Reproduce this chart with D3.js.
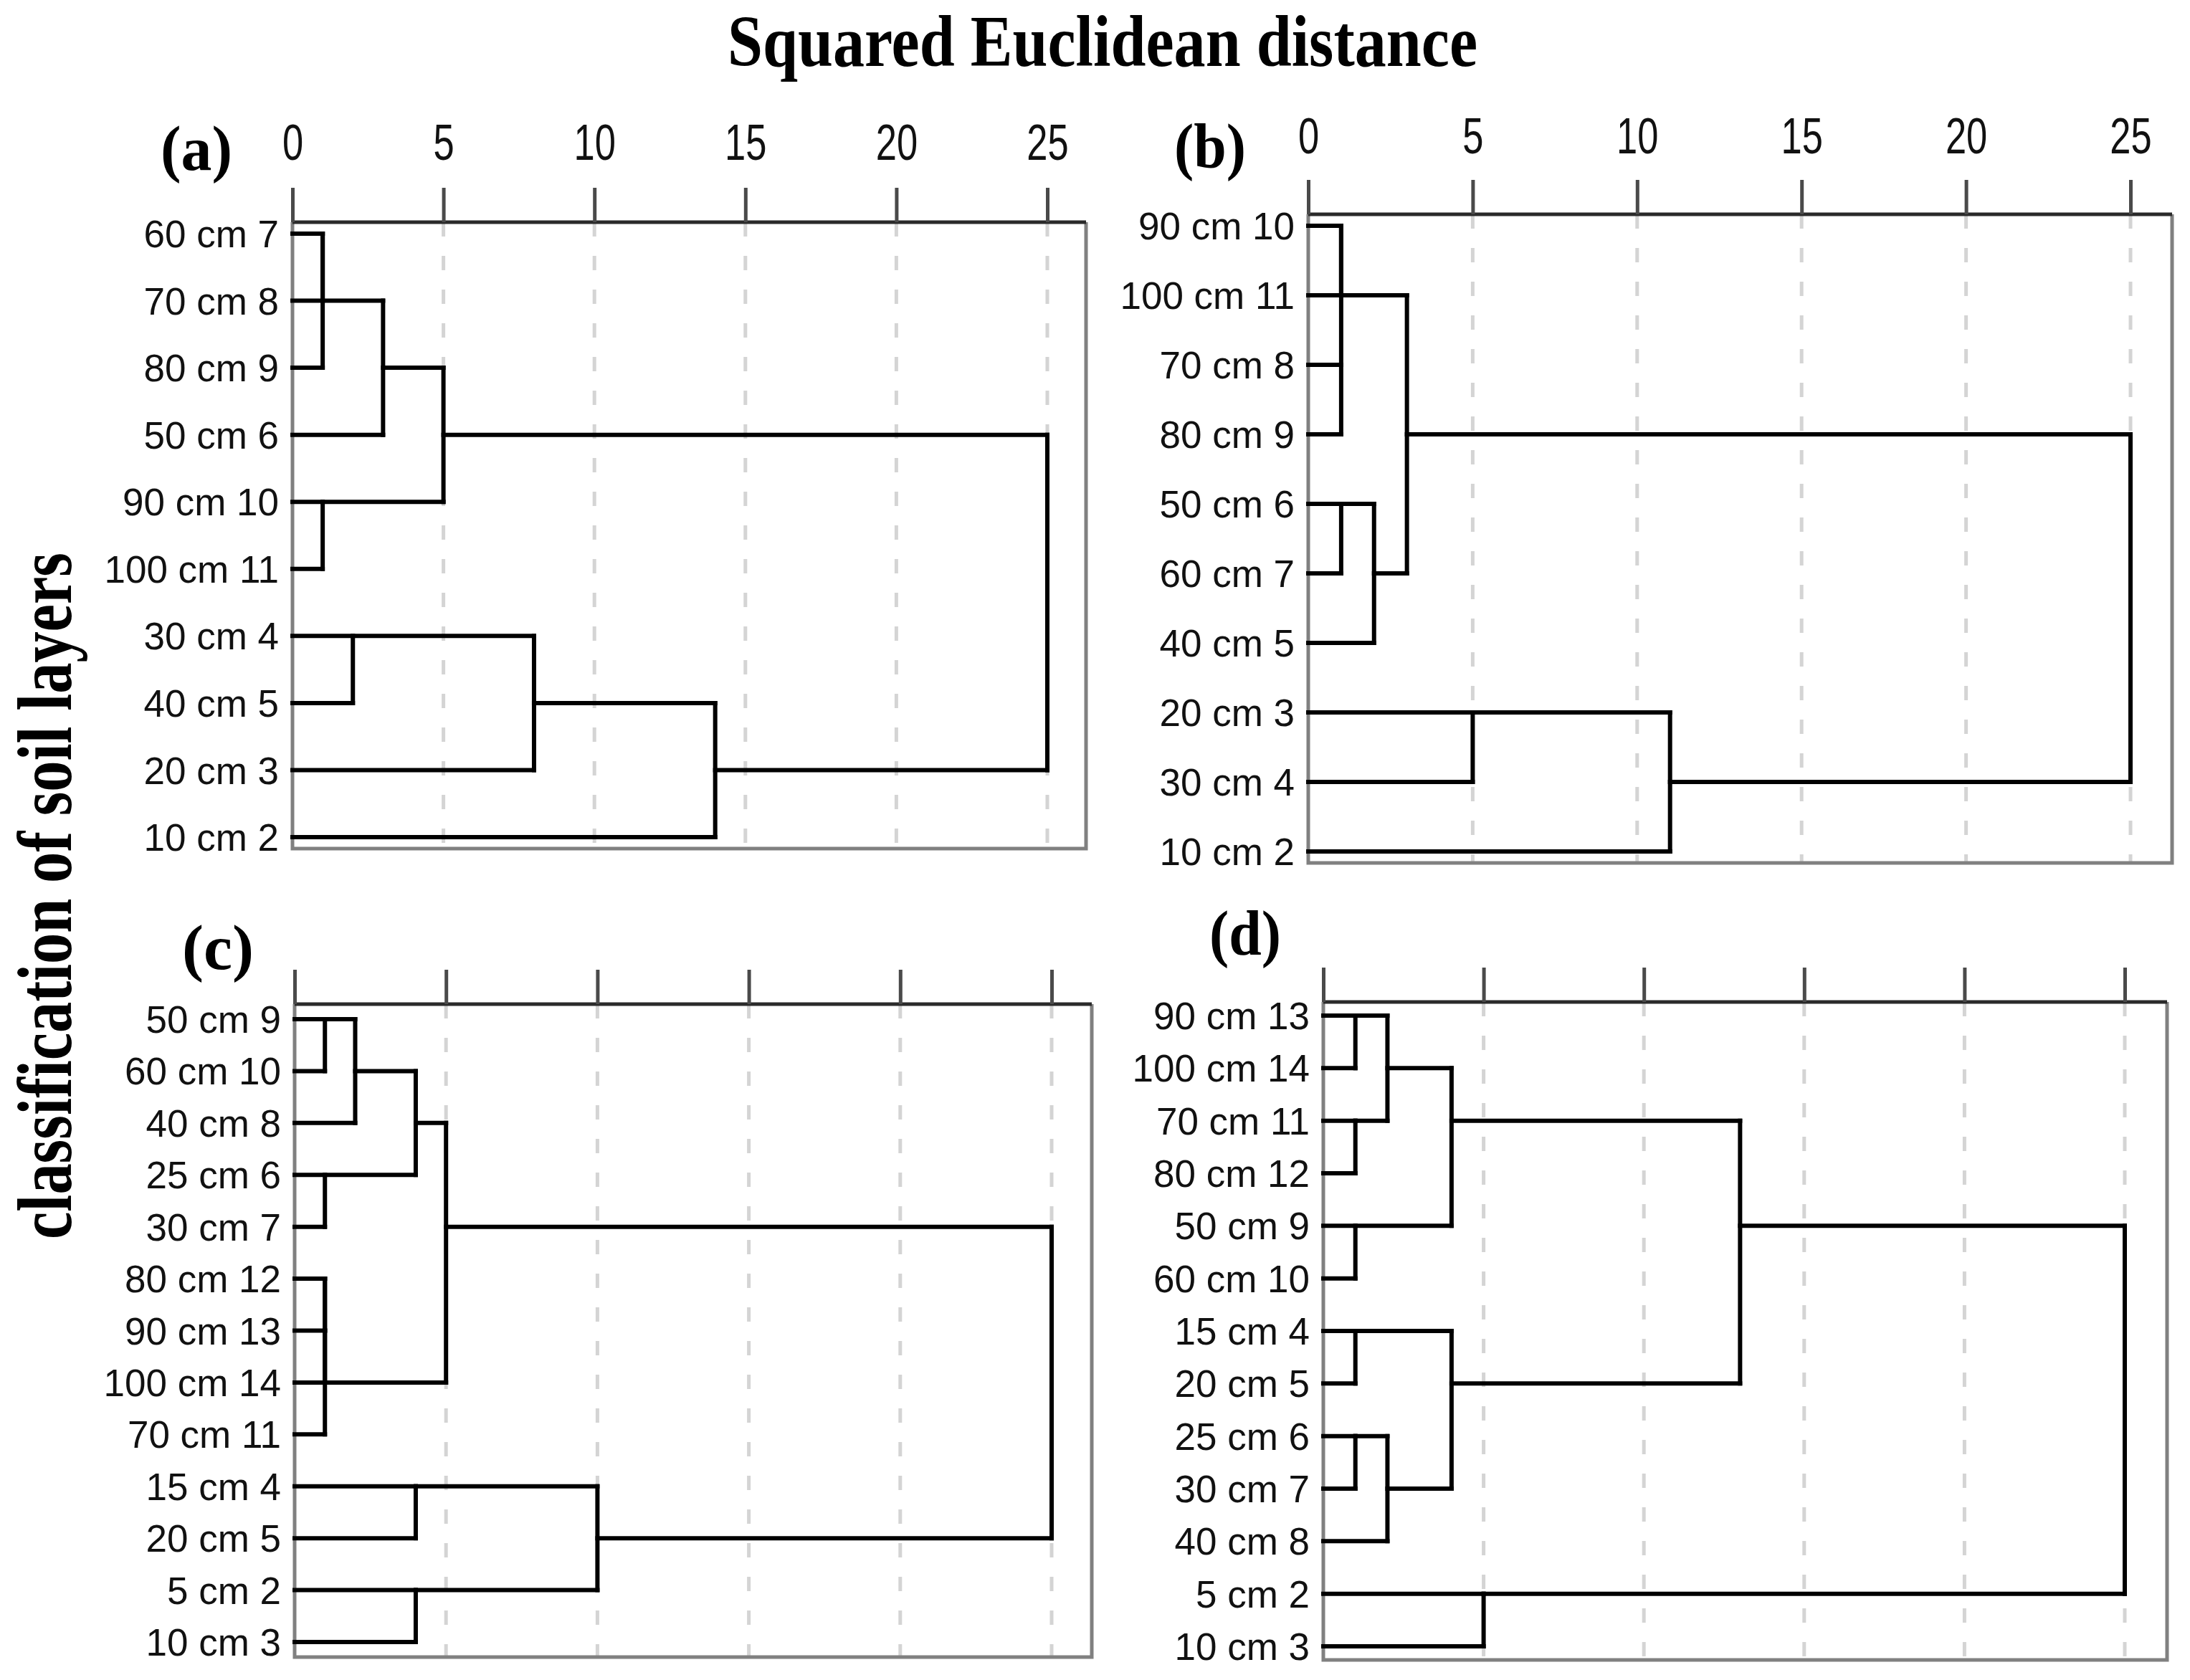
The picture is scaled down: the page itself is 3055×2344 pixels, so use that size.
<!DOCTYPE html>
<html>
<head>
<meta charset="utf-8">
<script src="https://cdn.jsdelivr.net/npm/d3@7"></script>
<style>
html,body{margin:0;padding:0;background:#fff;}
svg{display:block;}
</style>
</head>
<body>
<svg id="chart" width="3055" height="2344"></svg>
<script>
// ---------------- DATA ----------------
const titleText = "Squared Euclidean distance";
const yTitleText = "classification of soil layers";
const tickValues = [0, 5, 10, 15, 20, 25];
const panelNames = ["(a)", "(b)", "(c)", "(d)"];

const leavesA = ["60 cm 7","70 cm 8","80 cm 9","50 cm 6","90 cm 10","100 cm 11","30 cm 4","40 cm 5","20 cm 3","10 cm 2"];
// merges: [childA, childB, rescaled distance]; ids >= n are earlier clusters
const mergesA = [[0,1,1],[10,2,1],[4,5,1],[11,3,3],[13,12,5],[6,7,2],[15,8,8],[16,9,14],[14,17,25]];

const leavesB = ["90 cm 10","100 cm 11","70 cm 8","80 cm 9","50 cm 6","60 cm 7","40 cm 5","20 cm 3","30 cm 4","10 cm 2"];
const mergesB = [[0,1,1],[2,3,1],[10,11,1],[4,5,1],[13,6,2],[12,14,3],[7,8,5],[16,9,11],[15,17,25]];

const leavesC = ["50 cm 9","60 cm 10","40 cm 8","25 cm 6","30 cm 7","80 cm 12","90 cm 13","100 cm 14","70 cm 11","15 cm 4","20 cm 5","5 cm 2","10 cm 3"];
const mergesC = [[0,1,1],[13,2,2],[3,4,1],[14,15,4],[5,6,1],[17,7,1],[18,8,1],[16,19,5],[9,10,4],[11,12,4],[21,22,10],[20,23,25]];

const leavesD = ["90 cm 13","100 cm 14","70 cm 11","80 cm 12","50 cm 9","60 cm 10","15 cm 4","20 cm 5","25 cm 6","30 cm 7","40 cm 8","5 cm 2","10 cm 3"];
const mergesD = [[0,1,1],[2,3,1],[13,14,2],[4,5,1],[15,16,4],[6,7,1],[8,9,1],[19,10,2],[18,20,4],[17,21,13],[11,12,5],[22,23,25]];

// ---------------- LAYOUT ----------------
const layout = [
  {leaves: leavesA, merges: mergesA, x0:408,  x1:1461, boxR:1515, top:310,  bottom:1184, pad:16, lx:274,  ly:237,  labels:true,  tickPad:39},
  {leaves: leavesB, merges: mergesB, x0:1825, x1:2972, boxR:3030, top:299,  bottom:1204, pad:16, lx:1688, ly:234,  labels:true,  tickPad:37},
  {leaves: leavesC, merges: mergesC, x0:411,  x1:1467, boxR:1523, top:1401, bottom:2312, pad:21, lx:304,  ly:1352, labels:false, tickPad:37},
  {leaves: leavesD, merges: mergesD, x0:1846, x1:2964, boxR:3023, top:1398, bottom:2316, pad:19, lx:1737, ly:1332, labels:false, tickPad:37}
];

const svg = d3.select("#chart");

// Title
svg.append("text")
  .attr("x", 1538).attr("y", 92)
  .attr("text-anchor", "middle")
  .attr("font-family", "'Liberation Serif','Times New Roman',serif")
  .attr("font-weight", "bold")
  .attr("font-size", 102)
  .attr("textLength", 1046)
  .attr("lengthAdjust", "spacingAndGlyphs")
  .attr("fill", "#000")
  .text(titleText);

// Y title
svg.append("text")
  .attr("transform", "translate(99,1250) rotate(-90)")
  .attr("text-anchor", "middle")
  .attr("font-family", "'Liberation Serif','Times New Roman',serif")
  .attr("font-weight", "bold")
  .attr("font-size", 108)
  .attr("textLength", 958)
  .attr("lengthAdjust", "spacingAndGlyphs")
  .attr("fill", "#000")
  .text(yTitleText);

layout.forEach((p, pi) => {
  const n = p.leaves.length;
  const x = d3.scaleLinear().domain([0, 25]).range([p.x0, p.x1]);
  const y = d3.scalePoint().domain(d3.range(n)).range([p.top + p.pad, p.bottom - p.pad]);
  const g = svg.append("g");

  // dashed gridlines
  g.append("g").selectAll("line").data(tickValues.filter(v => v > 0)).join("line")
    .attr("x1", d => x(d)).attr("x2", d => x(d))
    .attr("y1", p.top).attr("y2", p.bottom)
    .attr("stroke", "#d4d4d4").attr("stroke-width", 5)
    .attr("stroke-dasharray", "20,27");

  // box
  g.append("path")
    .attr("d", `M${p.x0},${p.top} L${p.x0},${p.bottom} L${p.boxR},${p.bottom} L${p.boxR},${p.top}`)
    .attr("fill", "none").attr("stroke", "#808080").attr("stroke-width", 5);
  g.append("line")
    .attr("x1", p.x0).attr("x2", p.boxR).attr("y1", p.top).attr("y2", p.top)
    .attr("stroke", "#2a2a2a").attr("stroke-width", 5);

  // dendrogram geometry
  const row = d3.range(n);
  const dist = new Array(n).fill(0);
  const vSegs = [], hSegs = [];
  p.merges.forEach(([a, b, d]) => {
    vSegs.push({x: d, r1: row[a], r2: row[b]});
    hSegs.push({x1: dist[a], x2: d, r: row[a]});
    hSegs.push({x1: dist[b], x2: d, r: row[b]});
    row.push(Math.floor((row[a] + row[b]) / 2));
    dist.push(d);
  });
  const yr = r => y(r);

  g.append("g").selectAll("line").data(hSegs).join("line")
    .attr("x1", d => x(d.x1)).attr("x2", d => x(d.x2))
    .attr("y1", d => yr(d.r)).attr("y2", d => yr(d.r))
    .attr("stroke", "#000").attr("stroke-width", 6).attr("stroke-linecap", "square");
  g.append("g").selectAll("line").data(vSegs).join("line")
    .attr("x1", d => x(d.x)).attr("x2", d => x(d.x))
    .attr("y1", d => yr(d.r1)).attr("y2", d => yr(d.r2))
    .attr("stroke", "#000").attr("stroke-width", 6).attr("stroke-linecap", "square");

  // leaf labels
  g.append("g").selectAll("text").data(p.leaves).join("text")
    .attr("x", p.x0 - 19)
    .attr("y", (d, i) => y(i))
    .attr("dy", "0.36em")
    .attr("text-anchor", "end")
    .attr("font-family", "'Liberation Sans',Arial,sans-serif")
    .attr("font-size", 53)
    .attr("fill", "#111")
    .text(d => d);

  // top axis
  const axis = d3.axisTop(x).tickValues(tickValues).tickSizeInner(48).tickSizeOuter(0).tickPadding(p.tickPad)
    .tickFormat(p.labels ? d3.format("d") : () => "");
  const ax = g.append("g").attr("transform", `translate(0,${p.top})`).call(axis);
  ax.select(".domain").remove();
  ax.selectAll(".tick line").attr("stroke", "#4a4a4a").attr("stroke-width", 5);
  ax.selectAll(".tick text")
    .attr("font-family", "'Liberation Sans',Arial,sans-serif")
    .attr("font-size", 70)
    .attr("fill", "#111")
    .attr("transform", "scale(0.75,1)");

  // panel label
  svg.append("text")
    .attr("x", p.lx).attr("y", p.ly)
    .attr("text-anchor", "middle")
    .attr("font-family", "'Liberation Serif','Times New Roman',serif")
    .attr("font-weight", "bold")
    .attr("font-size", 88)
    .attr("textLength", 100)
    .attr("lengthAdjust", "spacingAndGlyphs")
    .attr("fill", "#000")
    .text(panelNames[pi]);
});
</script>
</body>
</html>
